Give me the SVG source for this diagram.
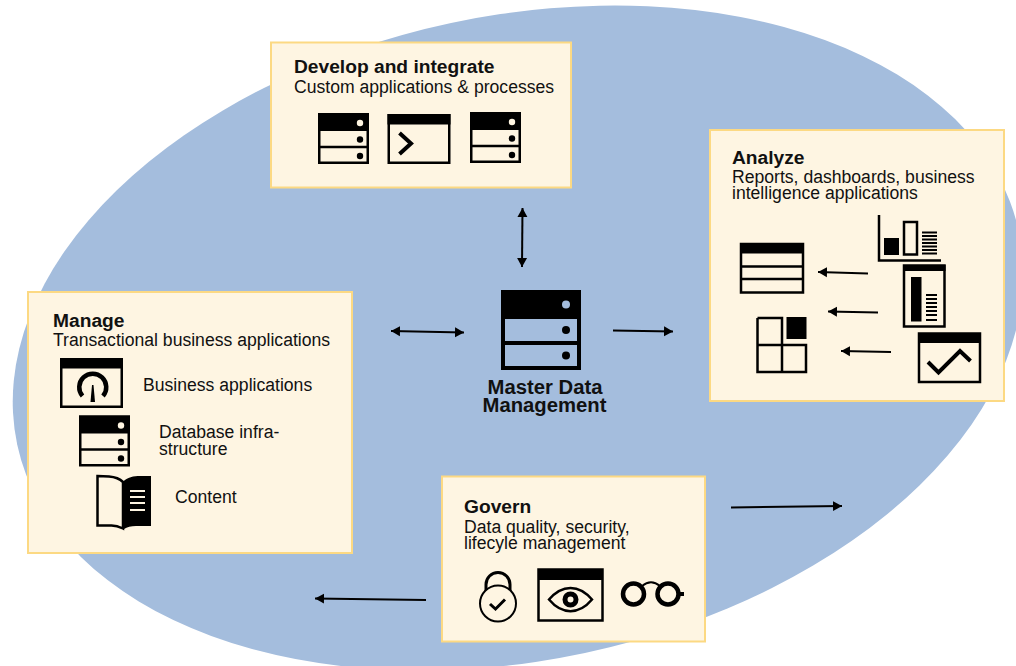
<svg xmlns="http://www.w3.org/2000/svg" xmlns:xlink="http://www.w3.org/1999/xlink" width="1016" height="666" viewBox="0 0 1016 666">
<style>
text{font-family:"Liberation Sans",Arial,sans-serif;fill:#111}
.t{font-size:19.200px;font-weight:700}
.s{font-size:17.600px}
.m{font-size:20.300px;font-weight:700;text-anchor:middle}
.box{fill:#fef5e2;stroke:#fcd983;stroke-width:2}
.k{fill:#000}
.o{fill:none;stroke:#000}
.c{fill:none;stroke:#000;stroke-width:2}
</style>
<defs>
<marker id="a" markerUnits="userSpaceOnUse" markerWidth="10" markerHeight="11" refX="9" refY="5.500" orient="auto-start-reverse"><path d="M0 .5L9 5.500L0 10.500z" fill="#000"/></marker>
<g id="db"><rect x="1.250" y="1.250" width="48.500" height="48.500" fill="none" stroke="#000" stroke-width="2.500"/><rect x="0" y="0" width="51" height="18" fill="#000"/><path d="M1 34H50" stroke="#000" stroke-width="2.500"/><circle cx="42" cy="10" r="3.200" fill="#fef5e2"/><circle cx="42" cy="26.500" r="3.200" fill="#000"/><circle cx="42" cy="43" r="3.200" fill="#000"/></g>
<g id="win"><rect x="1.250" y="1.250" width="60.500" height="47.500" fill="none" stroke="#000" stroke-width="2.500"/><rect x="0" y="0" width="63" height="10.500" fill="#000"/></g>
</defs>
<ellipse cx="518" cy="338" rx="512" ry="322" transform="rotate(-12 518 338)" fill="#a4bddd"/>
<g id="develop">
<rect class="box" x="271" y="42.500" width="300" height="145"/>
<text class="t" x="294" y="73">Develop and integrate</text>
<text class="s" x="294" y="92.500">Custom applications &amp; processes</text>
<use xlink:href="#db" href="#db" x="318" y="113"/>
<use xlink:href="#win" href="#win" transform="translate(387.500 114)"/>
<path class="o" stroke-width="4" d="M399.500 133L411 143.500L399.500 154"/>
<use xlink:href="#db" href="#db" x="470" y="112"/>
</g>
<g id="analyze">
<rect class="box" x="710" y="130" width="294" height="271"/>
<text class="t" x="732" y="163.500">Analyze</text>
<text class="s" x="732" y="182.500">Reports, dashboards, business</text>
<text class="s" x="732" y="198.500">intelligence applications</text>
<path class="o" stroke-width="2.500" d="M879 215V260.500H941"/>
<rect class="k" x="884" y="238" width="15" height="17"/>
<rect class="o" stroke-width="2.500" x="904" y="222" width="13" height="32.500"/>
<path class="o" stroke-width="1.800" d="M922 232.500h15M922 236h15M922 239.500h15M922 243h15M922 246.500h15M922 250h15M922 253.500h15"/>
<rect class="o" stroke-width="2.500" x="741" y="244" width="62" height="48.500"/>
<rect class="k" x="740" y="243" width="64" height="10.500"/>
<path class="o" stroke-width="2.500" d="M741 266.500H803M741 279H803"/>
<rect class="o" stroke-width="2.500" x="904" y="265.500" width="40.500" height="61"/>
<rect class="k" x="903" y="265" width="42.500" height="6"/>
<rect class="k" x="911" y="277" width="10.500" height="44.500"/>
<path class="o" stroke-width="1.800" d="M926 295h11M926 299h11M926 303h11M926 307h11M926 311h11M926 315h11M926 320h11"/>
<path class="o" stroke-width="2.500" d="M757.500 318H782V372M757.500 318V372H806V345H757.500"/>
<rect class="k" x="786.500" y="317" width="20" height="22"/>
<rect class="o" stroke-width="2.500" x="919" y="333.500" width="61" height="48.500"/>
<rect class="k" x="918" y="333" width="63" height="10"/>
<path class="o" stroke-width="4" d="M928 362L938.500 372.500L960 351L970.500 361"/>
</g>
<g id="manage">
<rect class="box" x="28" y="292" width="324" height="261"/>
<text class="t" x="53" y="326.500">Manage</text>
<text class="s" x="53" y="345.500">Transactional business applications</text>
<use xlink:href="#win" href="#win" transform="translate(60 358)"/>
<path class="o" stroke-width="4.500" d="M82.500 396A13.500 13.500 0 1 1 103 396"/>
<path class="k" d="M90.500 402L92 385L93.500 385L95 402z"/>
<text class="s" x="143" y="391">Business applications</text>
<use xlink:href="#db" href="#db" x="79" y="415.500"/>
<text class="s" x="159" y="438">Database infra-</text>
<text class="s" x="159" y="455">structure</text>
<path fill="#fef5e2" stroke="#000" stroke-width="2.500" d="M97.500 476L109 476.500C115 477 120 479 123 482V528.500C120 527 116 525 110 525.500H97.500z"/>
<path class="k" d="M123 482C127 477 134 476 140 476H151V526H136C131 526 127 527 124 529L123 529z"/>
<path stroke="#fef5e2" stroke-width="1.800" d="M130 491h15M130 497h15M130 503h15M130 510h15"/>
<text class="s" x="175" y="503">Content</text>
</g>
<g id="mdm">
<rect class="o" stroke-width="4" x="503" y="292" width="76" height="76"/>
<rect class="k" x="501" y="290" width="80" height="29"/>
<path stroke="#000" stroke-width="4" d="M503 343H579"/>
<circle cx="566" cy="304.500" r="4" fill="#a4bddd"/>
<circle cx="566" cy="330" r="4" fill="#000"/>
<circle cx="566" cy="355.500" r="4" fill="#000"/>
<text class="m" x="545" y="394">Master Data</text>
<text class="m" x="544.500" y="412">Management</text>
</g>
<g id="govern">
<rect class="box" x="442" y="476.500" width="263" height="165"/>
<text class="t" x="464" y="513">Govern</text>
<text class="s" x="464" y="532.500">Data quality, security,</text>
<text class="s" x="464" y="548.500">lifecyle management</text>
<path class="o" stroke-width="3" d="M486 592V584.500A12 12 0 0 1 510 584.500V592"/>
<circle cx="498" cy="603.500" r="18" fill="#fef5e2" stroke="#000" stroke-width="2"/>
<path class="o" stroke-width="3" d="M490 604L495.500 609L505 599.500"/>
<rect class="o" stroke-width="2.500" x="538.500" y="569.500" width="64" height="51"/>
<rect class="k" x="538" y="569" width="65" height="11"/>
<path class="o" stroke-width="2.500" d="M549 599.500C562 584 579 584 592 599.500C579 615 562 615 549 599.500z"/>
<circle cx="570.500" cy="599.500" r="5.500" fill="none" stroke="#000" stroke-width="5"/>
<circle cx="633.500" cy="594" r="10.500" fill="none" stroke="#000" stroke-width="4.500"/>
<circle cx="668" cy="594" r="10.500" fill="none" stroke="#000" stroke-width="4.500"/>
<path class="o" stroke-width="1.800" d="M642 586C648 581 654 581 660 586"/>
<path class="o" stroke-width="4" d="M622 594h2M678 594h6"/>
</g>
<g id="connectors">
<path class="c" d="M522.500 208L522 267" marker-start="url(#a)" marker-end="url(#a)"/>
<path class="c" d="M391 331L464 332.500" marker-start="url(#a)" marker-end="url(#a)"/>
<path class="c" d="M613 330.500L673 331.500" marker-end="url(#a)"/>
<path class="c" d="M868 273.500L818 272" marker-end="url(#a)"/>
<path class="c" d="M878 312.500L828 311.500" marker-end="url(#a)"/>
<path class="c" d="M891 352L841 351" marker-end="url(#a)"/>
<path class="c" d="M731 507.500L842 506" marker-end="url(#a)"/>
<path class="c" d="M426 600L315 598.500" marker-end="url(#a)"/>
</g>
</svg>
